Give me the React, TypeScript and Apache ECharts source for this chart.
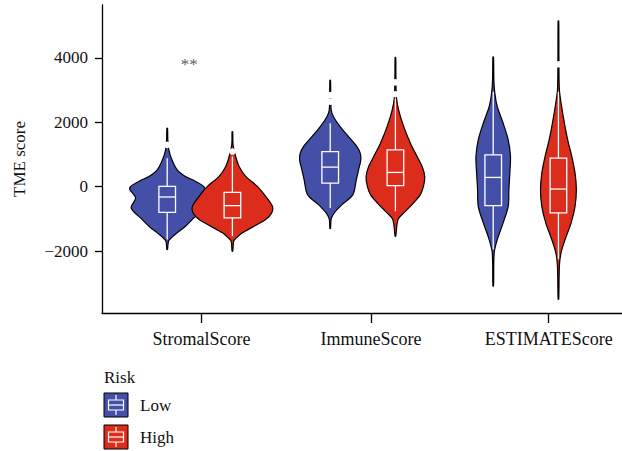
import React, { useEffect, useRef } from "react";
import * as echarts from "echarts";

const categories = ["StromalScore", "ImmuneScore", "ESTIMATEScore"];
const groups = ["Low", "High"];
const groupColors = ["#4450A8", "#DC2C1C"];
const yTickValues = [-2000, 0, 2000, 4000];
const xLabelPositions = [1.01, 2.05, 3.14];
const significance = ["**", "", ""];

// violin outlines: [score, half-width in category units]
const stromalLowViolin = [
  [1814, 0.002], [1450, 0.004], [1144, 0.01], [835, 0.029], [525, 0.061], [319, 0.112],
  [165, 0.174], [-41, 0.231], [-350, 0.194], [-660, 0.221], [-1020, 0.153], [-1226, 0.112],
  [-1432, 0.061], [-1587, 0.025], [-1690, 0.008], [-1947, 0.002],
];
const stromalHighViolin = [
  [1710, 0.002], [1300, 0.004], [937, 0.02], [628, 0.041], [319, 0.082], [10, 0.153],
  [-299, 0.204], [-608, 0.245], [-814, 0.241], [-1020, 0.204], [-1226, 0.133], [-1432, 0.061],
  [-1587, 0.025], [-1690, 0.008], [-2000, 0.002],
];
const immuneLowViolin = [
  [3307, 0.002], [2900, 0.003], [2380, 0.006], [2173, 0.02], [1864, 0.061], [1555, 0.112],
  [1246, 0.164], [1040, 0.184], [835, 0.188], [525, 0.174], [216, 0.16], [-247, 0.139],
  [-556, 0.072], [-814, 0.025], [-1000, 0.006], [-1298, 0.002],
];
const immuneHighViolin = [
  [4009, 0.002], [3500, 0.003], [2791, 0.006], [2380, 0.02], [1864, 0.051], [1350, 0.092],
  [937, 0.133], [628, 0.164], [319, 0.18], [10, 0.172], [-247, 0.153], [-556, 0.102],
  [-814, 0.051], [-1020, 0.016], [-1536, 0.002],
];
const estimateLowViolin = [
  [4028, 0.002], [3307, 0.004], [2896, 0.01], [2482, 0.025], [1969, 0.061], [1453, 0.092],
  [937, 0.106], [423, 0.102], [-93, 0.096], [-608, 0.092], [-1122, 0.061], [-1638, 0.025],
  [-2050, 0.006], [-3082, 0.002],
];
const estimateHighViolin = [
  [5140, 0.002], [3998, 0.003], [2998, 0.006], [2482, 0.02], [1969, 0.037], [1453, 0.057],
  [937, 0.082], [423, 0.102], [-93, 0.11], [-608, 0.102], [-1122, 0.078], [-1638, 0.041],
  [-2050, 0.016], [-2463, 0.006], [-3493, 0.002],
];

// box stats: [lower whisker, Q1, median, Q3, upper whisker]
const stromalLowBox = [-1638, -794, -319, 10, 886];
const stromalHighBox = [-1535, -969, -587, -175, 937];
const immuneLowBox = [-660, 113, 608, 1092, 1967];
const immuneHighBox = [-760, 31, 443, 1144, 2740];
const estimateLowBox = [-1947, -587, 288, 989, 2946];
const estimateHighBox = [-2256, -814, -72, 886, 2946];

const stromalLowOutliers = [1298];
const stromalHighOutliers = [1092];
const immuneLowOutliers = [2840, 2640];
const immuneHighOutliers = [3240, 2870];
const estimateLowOutliers: number[] = [];
const estimateHighOutliers = [3800];

const violins = [
  [stromalLowViolin, stromalHighViolin],
  [immuneLowViolin, immuneHighViolin],
  [estimateLowViolin, estimateHighViolin],
];
const boxes = [
  [stromalLowBox, stromalHighBox],
  [immuneLowBox, immuneHighBox],
  [estimateLowBox, estimateHighBox],
];
const outliers = [
  [stromalLowOutliers, stromalHighOutliers],
  [immuneLowOutliers, immuneHighOutliers],
  [estimateLowOutliers, estimateHighOutliers],
];

const DODGE = [-0.2, 0.2];
const BOX_HALF = 0.051;
const FONT = "Liberation Serif";

export default function App() {
  const ref = useRef<HTMLDivElement>(null);
  useEffect(() => {
    if (!ref.current) return;
    const chart = echarts.init(ref.current, null, { renderer: "svg" });

    const data: number[][] = [];
    categories.forEach((_, ci) =>
      groups.forEach((_, gi) => {
        data.push([ci + 1 + DODGE[gi], boxes[ci][gi][2], ci, gi]);
      })
    );

    const renderItem = (params: any, api: any) => {
      const xc = api.value(0);
      const ci = api.value(2);
      const gi = api.value(3);
      const prof = violins[ci][gi];
      const right = prof.map(([v, w]) => api.coord([xc + w, v]));
      const left = prof
        .slice()
        .reverse()
        .map(([v, w]) => api.coord([xc - w, v]));
      const pts = right.concat(left);
      const [mn, q1, md, q3, mx] = boxes[ci][gi];
      const tl = api.coord([xc - BOX_HALF, q3]);
      const br = api.coord([xc + BOX_HALF, q1]);
      const cTop = api.coord([xc, mx]);
      const cQ3 = api.coord([xc, q3]);
      const cQ1 = api.coord([xc, q1]);
      const cBot = api.coord([xc, mn]);
      const mdY = api.coord([xc, md])[1];
      const white = { stroke: "#ffffff", lineWidth: 1.3, fill: null };
      const children: any[] = [
        {
          type: "polygon",
          shape: { points: pts, smooth: 0.3 },
          style: { fill: groupColors[gi], stroke: "#000", lineWidth: 1.2 },
        },
        { type: "line", shape: { x1: cTop[0], y1: cTop[1], x2: cQ3[0], y2: cQ3[1] }, style: white },
        { type: "line", shape: { x1: cQ1[0], y1: cQ1[1], x2: cBot[0], y2: cBot[1] }, style: white },
        {
          type: "rect",
          shape: { x: tl[0], y: tl[1], width: br[0] - tl[0], height: br[1] - tl[1] },
          style: white,
        },
        { type: "line", shape: { x1: tl[0], y1: mdY, x2: br[0], y2: mdY }, style: white },
      ];
      outliers[ci][gi].forEach((o) => {
        const p = api.coord([xc, o]);
        children.push({
          type: "circle",
          shape: { cx: p[0], cy: p[1], r: 3.3 },
          style: { fill: "#ffffff", stroke: null },
        });
      });
      return { type: "group", children };
    };

    const sigData = significance
      .map((s, ci) => (s ? { value: [ci + 1 - 0.065, 3780], label: s } : null))
      .filter(Boolean) as any[];

    const legendIcon = (y: number, color: string) => ({
      type: "group",
      children: [
        { type: "rect", shape: { x: 104, y, width: 24, height: 24 }, style: { fill: color, stroke: "#000", lineWidth: 1 } },
        { type: "line", shape: { x1: 116, y1: y + 2, x2: 116, y2: y + 7 }, style: { stroke: "#fff", lineWidth: 1.2 } },
        { type: "line", shape: { x1: 116, y1: y + 17, x2: 116, y2: y + 22 }, style: { stroke: "#fff", lineWidth: 1.2 } },
        { type: "rect", shape: { x: 108.5, y: y + 7, width: 15, height: 10 }, style: { fill: null, stroke: "#fff", lineWidth: 1.2 } },
        { type: "line", shape: { x1: 108.5, y1: y + 12, x2: 123.5, y2: y + 12 }, style: { stroke: "#fff", lineWidth: 1.2 } },
      ],
    });

    chart.setOption({
      animation: false,
      grid: { left: 102, right: 0, top: 5, bottom: 138 },
      xAxis: {
        type: "value",
        min: 0.4,
        max: 3.59,
        splitLine: { show: false },
        axisLine: { show: true, onZero: false, lineStyle: { color: "#000", width: 1.3 } },
        axisTick: { show: true, length: 10, customValues: xLabelPositions, lineStyle: { color: "#000", width: 1.3 } },
        axisLabel: {
          customValues: xLabelPositions,
          formatter: (v: number) => categories[Math.round(v) - 1] ?? "",
          fontFamily: FONT,
          fontSize: 18,
          color: "#111",
          margin: 17,
        },
      },
      yAxis: {
        type: "value",
        min: -3920,
        max: 5640,
        name: "TME score",
        nameLocation: "middle",
        nameGap: 74,
        nameTextStyle: { fontFamily: FONT, fontSize: 17, color: "#111" },
        splitLine: { show: false },
        axisLine: { show: true, onZero: false, lineStyle: { color: "#000", width: 1.3 } },
        axisTick: { show: true, length: 7, customValues: yTickValues, lineStyle: { color: "#000", width: 1.3 } },
        axisLabel: {
          customValues: yTickValues,
          formatter: (v: number) => (v < 0 ? "\u2212" + Math.abs(v) : String(v)),
          fontFamily: FONT,
          fontSize: 17,
          color: "#111",
          margin: 14,
        },
      },
      series: [
        {
          type: "custom",
          renderItem,
          data,
          encode: { x: 0, y: 1 },
          clip: false,
          z: 2,
        },
        {
          type: "scatter",
          data: sigData,
          symbolSize: 0,
          z: 3,
          label: {
            show: true,
            position: "inside",
            formatter: (p: any) => p.data.label,
            fontFamily: FONT,
            fontSize: 17,
            color: "#333",
          },
        },
      ],
      graphic: [
        { type: "text", x: 104, y: 369, style: { text: "Risk", fontFamily: FONT, fontSize: 17, fill: "#111", verticalAlign: "top" } },
        legendIcon(393, groupColors[0]),
        { type: "text", x: 140, y: 405, style: { text: groups[0], fontFamily: FONT, fontSize: 17, fill: "#111", verticalAlign: "middle" } },
        legendIcon(425, groupColors[1]),
        { type: "text", x: 140, y: 437, style: { text: groups[1], fontFamily: FONT, fontSize: 17, fill: "#111", verticalAlign: "middle" } },
      ],
    });
    return () => chart.dispose();
  }, []);
  return <div ref={ref} style={{ position: "absolute", left: 0, top: 0, width: 622, height: 451 }} />;
}
